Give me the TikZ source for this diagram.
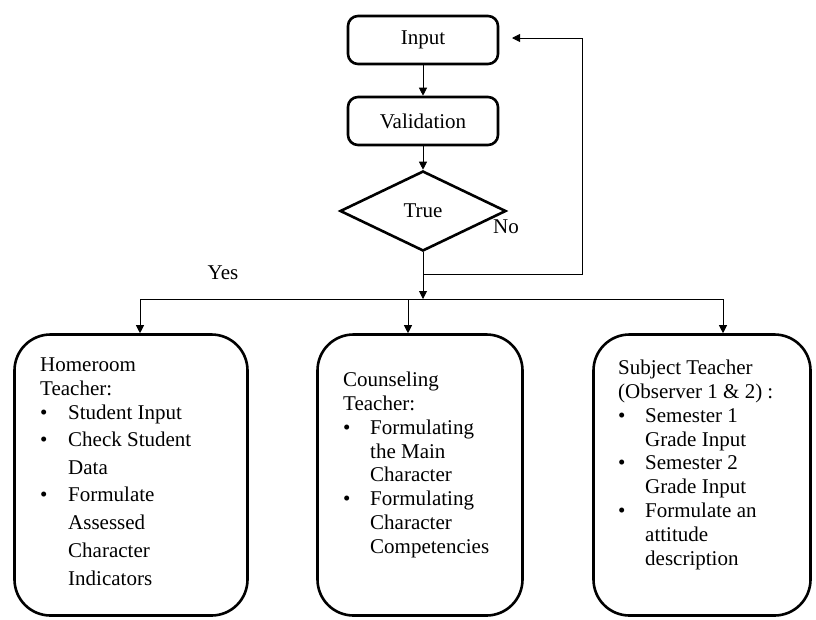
\documentclass[tikz,border=0pt]{standalone}
\usepackage{fontspec}
\setmainfont{Liberation Serif}
\usetikzlibrary{shapes.geometric,arrows.meta}
\newcommand{\bl}[1][28pt]{\makebox[#1][l]{\textbullet}}
\newcommand{\ind}[1][28pt]{\makebox[#1]{}}
\begin{document}
\begin{tikzpicture}[x=1pt,y=-1pt,
 smallbox/.style={draw,line width=2.6pt,rounded corners=10pt,minimum width=150pt,minimum height=48pt,inner sep=0pt},
 bigbox/.style={draw,line width=2.6pt,rounded corners=36pt,inner sep=0pt,minimum height=281pt},
 txt/.style={font=\fontsize{21}{24}\selectfont},
 body/.style={font=\fontsize{21}{23.8}\selectfont,align=left,anchor=north west,inner sep=0pt},
 conn/.style={line width=0.9pt},
 arr/.style={conn,-{Triangle[width=8pt,length=8pt]}},
]
\useasboundingbox (0,0) rectangle (816,619);
\node[smallbox,txt] (input) at (423,40) {Input};
\node[smallbox,txt] (valid) at (423,121) {Validation};
\node[draw,diamond,line width=2.6pt,minimum width=166pt,minimum height=80pt,inner sep=0pt,txt] (dec) at (423,211) {True};
\node[txt] (no) at (506,227) {No};
\node[txt] (yes) at (223,273) {Yes};

\node[bigbox,minimum width=233pt] (hr) at (131,475) {};
\node[bigbox,minimum width=205pt] (cs) at (420,475) {};
\node[bigbox,minimum width=217pt] (st) at (702,475) {};

\node[body] (hrtxt) at (40,358) {Homeroom\\Teacher:\\\bl Student Input\\[3pt]\bl Check Student\\[4pt]\ind Data\\[4pt]\bl Formulate\\[4pt]\ind Assessed\\[4pt]\ind Character\\[4pt]\ind Indicators};
\node[body] (cstxt) at (343,372) {Counseling\\Teacher:\\\bl[27pt]Formulating\\\ind[27pt]the Main\\\ind[27pt]Character\\\bl[27pt]Formulating\\\ind[27pt]Character\\\ind[27pt]Competencies};
\node[body] (sttxt) at (618,360) {Subject Teacher\\(Observer 1 \& 2) :\\\bl[27pt]Semester 1\\\ind[27pt]Grade Input\\\bl[27pt]Semester 2\\\ind[27pt]Grade Input\\\bl[27pt]Formulate an\\\ind[27pt]attitude\\\ind[27pt]description};

\coordinate (bus) at (423,299);
\coordinate (busL) at (140,299);
\coordinate (busM) at (408,299);
\coordinate (busR) at (723,299);
\coordinate (fbc) at (582,274);
\coordinate (fbend) at (512,38);

\draw[arr] (input.south) -- (valid.north);
\draw[arr] (valid.south) -- (dec.north);
\draw[arr] (dec.south) -- (bus);
\draw[arr] (dec.south |- fbc) -- (fbc) |- (fbend);
\draw[conn] (busL) -- (busR);
\draw[arr] (busL) -- (busL |- hr.north);
\draw[arr] (busM) -- (busM |- cs.north);
\draw[arr] (busR) -- (busR |- st.north);
\end{tikzpicture}
\end{document}
